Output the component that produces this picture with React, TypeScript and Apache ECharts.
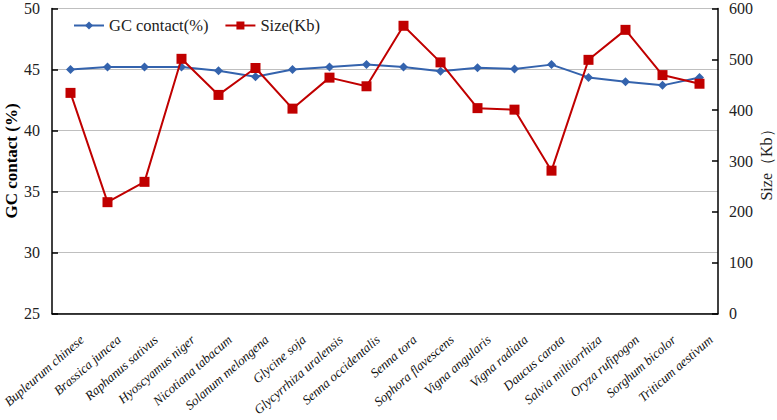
import React, { useEffect, useRef } from "react";
import * as echarts from "echarts";

const categories = [
  "Bupleurum chinese", "Brassica juncea", "Raphanus sativus", "Hyoscyamus niger",
  "Nicotiana tabacum", "Solanum melongena", "Glycine soja", "Glycyrrhiza uralensis",
  "Senna occidentalis", "Senna tora", "Sophora flavescens", "Vigna angularis",
  "Vigna radiata", "Daucus carota", "Salvia miltiorrhiza", "Oryza rufipogon",
  "Sorghum bicolor", "Triticum aestivum",
];
const gcContent = [45.0, 45.2, 45.2, 45.2, 44.9, 44.4, 45.0, 45.2, 45.4, 45.2, 44.85, 45.15, 45.05, 45.4, 44.35, 44.0, 43.7, 44.35];
const sizeKb = [434, 219, 259, 501, 430, 483, 403, 464, 447, 566, 494, 404, 401, 281, 499, 558, 469, 452];
const leftTicks = { min: 25, max: 50, interval: 5 };
const rightTicks = { min: 0, max: 600, interval: 100 };

const FONT = "'Liberation Serif', 'Times New Roman', serif";

export default function App() {
  const ref = useRef<HTMLDivElement>(null);
  useEffect(() => {
    document.body.style.margin = "0";
    const chart = echarts.init(ref.current!, undefined, { renderer: "svg" });
    chart.setOption({
      animation: false,
      textStyle: { fontFamily: FONT },
      legend: {
        left: 68,
        top: 12,
        itemWidth: 30,
        itemHeight: 10,
        itemGap: 16,
        textStyle: { fontFamily: FONT, fontSize: 16.5, color: "#222" },
        data: ["GC contact(%)", "Size(Kb)"],
      },
      grid: { left: 52, right: 59, top: 8.5, bottom: 106.5, containLabel: false, outerBoundsMode: "none" },
      xAxis: {
        type: "category",
        data: categories,
        boundaryGap: true,
        axisLine: { lineStyle: { color: "#000", width: 1.5 } },
        axisTick: { show: false },
        axisLabel: {
          interval: 0,
          rotate: 41,
          margin: 34,
          padding: [0, -15, 0, 0],
          fontFamily: FONT,
          fontStyle: "italic",
          fontSize: 13,
          color: "#111",
        },
      },
      yAxis: [
        {
          type: "value",
          min: leftTicks.min,
          max: leftTicks.max,
          interval: leftTicks.interval,
          name: "GC contact (%)",
          nameLocation: "middle",
          nameGap: 32,
          nameMoveOverlap: false,
          nameTextStyle: { fontFamily: FONT, fontSize: 17, fontWeight: "bold", color: "#000" },
          axisLine: { show: true, lineStyle: { color: "#000", width: 1.5 } },
          axisTick: { show: true, inside: true, length: 6, lineStyle: { color: "#000", width: 1.5 } },
          axisLabel: { fontFamily: FONT, fontSize: 16, color: "#222", margin: 12 },
          splitLine: { show: true, lineStyle: { color: "#bfbfbf", width: 1 } },
        },
        {
          type: "value",
          min: rightTicks.min,
          max: rightTicks.max,
          interval: rightTicks.interval,
          position: "right",
          name: "Size（Kb）",
          nameLocation: "middle",
          nameGap: 40,
          nameMoveOverlap: false,
          nameRotate: 90,
          nameTextStyle: { fontFamily: FONT, fontSize: 16, color: "#222" },
          axisLine: { show: true, lineStyle: { color: "#000", width: 1.5 } },
          axisTick: { show: true, inside: true, length: 6, lineStyle: { color: "#000", width: 1.5 } },
          axisLabel: { fontFamily: FONT, fontSize: 16, color: "#222", margin: 11 },
          splitLine: { show: false },
        },
      ],
      series: [
        {
          name: "GC contact(%)",
          type: "line",
          yAxisIndex: 0,
          data: gcContent,
          symbol: "diamond",
          symbolSize: 9,
          lineStyle: { color: "#3463ad", width: 2 },
          itemStyle: { color: "#3463ad" },
          z: 3,
        },
        {
          name: "Size(Kb)",
          type: "line",
          yAxisIndex: 1,
          data: sizeKb,
          symbol: "rect",
          symbolSize: 10,
          lineStyle: { color: "#c00000", width: 2 },
          itemStyle: { color: "#c00000" },
          z: 4,
        },
      ],
    });
    return () => chart.dispose();
  }, []);
  return <div ref={ref} style={{ width: 777, height: 420 }} />;
}
